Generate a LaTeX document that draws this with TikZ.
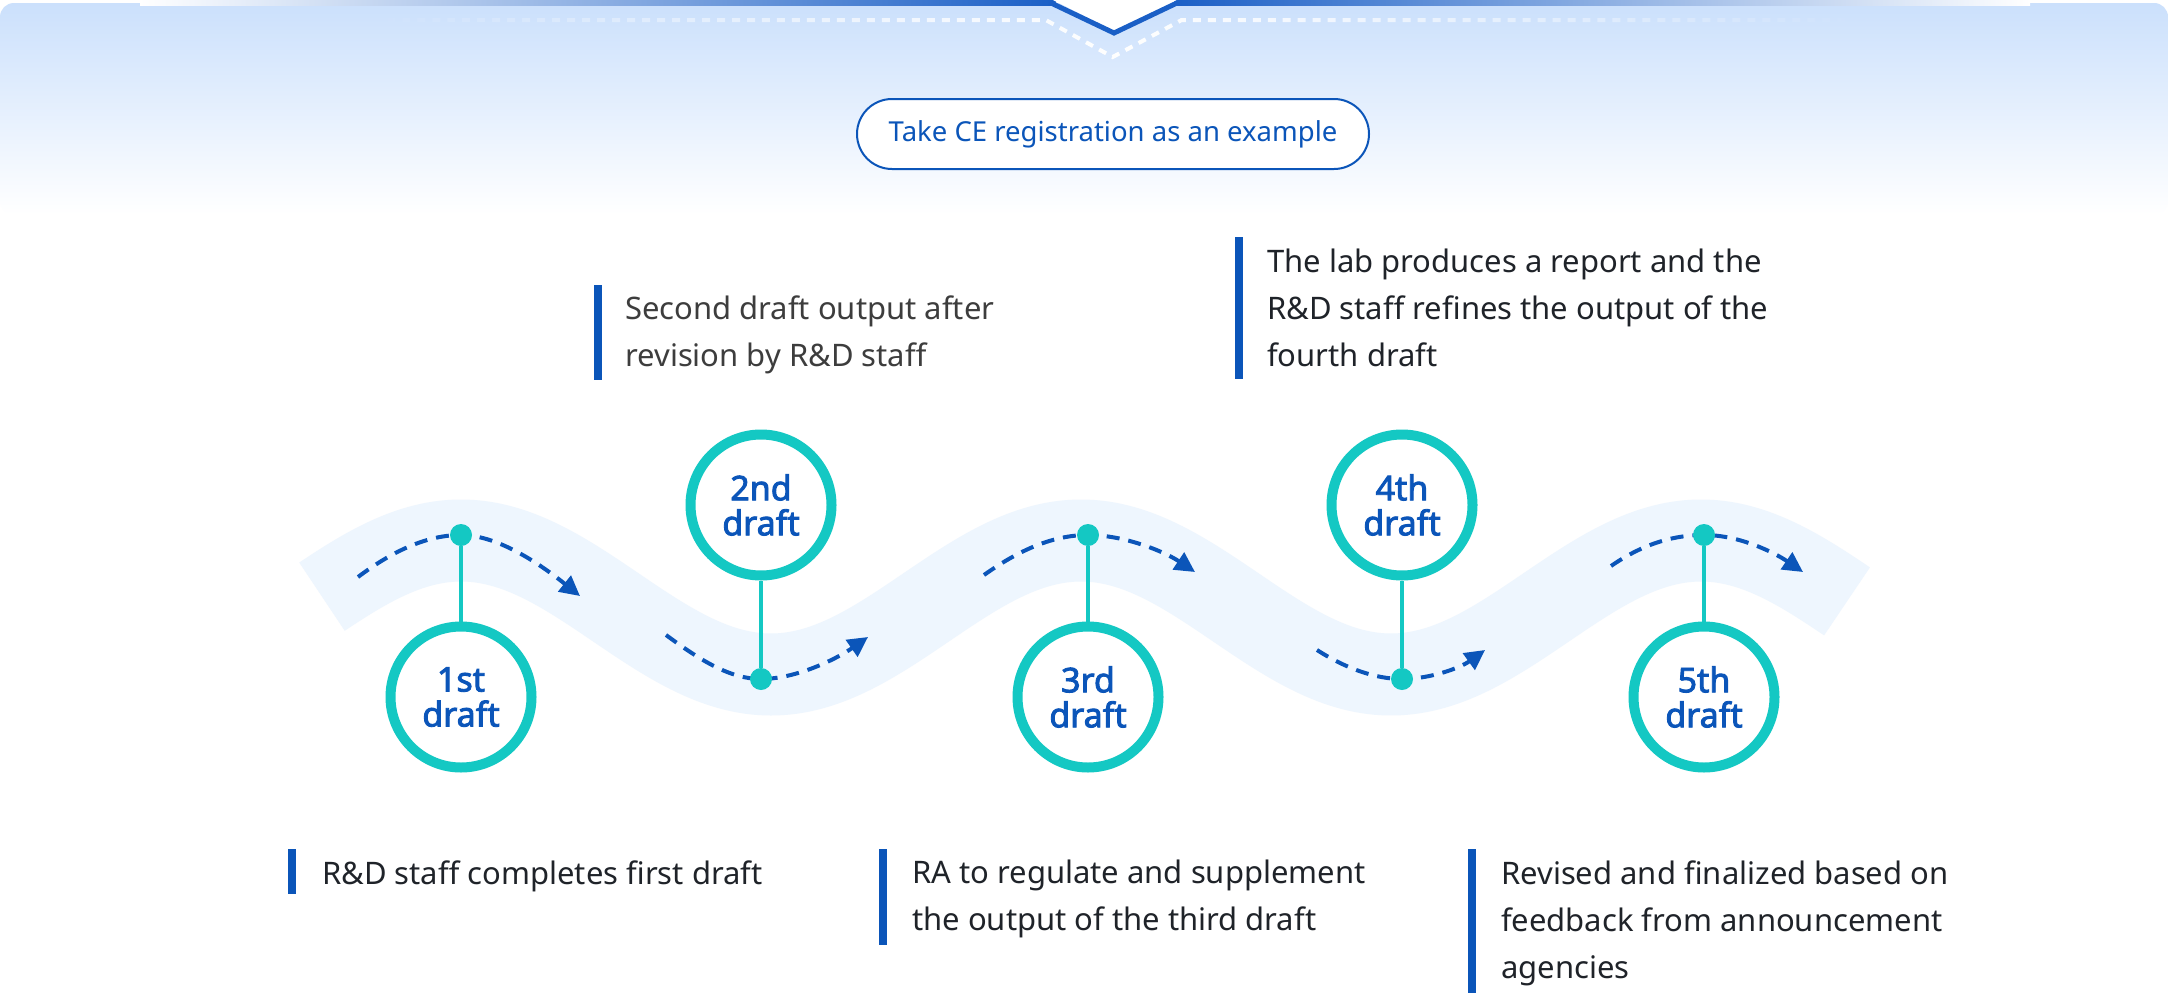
\documentclass[tikz,border=0pt]{standalone}
\usepackage{fontspec}
\setmainfont{Noto Sans}
\newfontfamily\circfont{Noto Sans}[FakeBold=2.6]
\usetikzlibrary{arrows.meta,fadings}
\definecolor{tealc}{HTML}{14C8C3}
\definecolor{dblue}{HTML}{0B55B9}
\definecolor{bandc}{HTML}{EEF6FE}
\definecolor{txtc}{HTML}{1F2329}
\definecolor{txtg}{HTML}{3D3D3D}
\definecolor{bgtop}{HTML}{CBE0FC}
\definecolor{barblue}{HTML}{1A5FC6}
\definecolor{barmid}{HTML}{8CC0F5}
\tikzfading[name=fadeends, left color=transparent!100, right color=transparent!100, middle color=transparent!0]
\tikzset{
  stagecirc/.style={circle, draw=tealc, line width=10pt, fill=white, minimum size=141pt, inner sep=0pt, align=center, text=dblue, font=\circfont\fontsize{34}{35}\selectfont},
  dotc/.style={circle, fill=tealc, minimum size=22pt, inner sep=0pt},
  stem/.style={draw=tealc, line width=4pt},
  flow/.style={draw=dblue, line width=4pt, dash pattern=on 13pt off 9pt, -{Triangle[length=20pt,width=20pt]}},
  desc/.style={anchor=base west, inner sep=0pt, text=txtc, font=\fontsize{31}{47}\selectfont},
  barc/.style={fill=dblue},
}
\begin{document}
\begin{tikzpicture}[x=1pt,y=-1pt]
\useasboundingbox (0,0) rectangle (2168,993);
\fill[white] (0,0) rectangle (2168,993);
% top background gradient
\shade[top color=bgtop, bottom color=white, rounded corners=14pt] (0,3) rectangle (2168,215);
% top bar
\shade[left color=white, middle color=barmid, right color=barblue] (140,0) rectangle (1056,5);
\shade[left color=barblue, middle color=barmid, right color=white] (1174,0) rectangle (2030,5);
\fill[white] (1053,0) -- (1114,31) -- (1177,0) -- cycle;
\draw[barblue, line width=5pt, line join=miter] (1050,2.5) -- (1114,33) -- (1178,2.5);
\draw[white, line width=4pt, dash pattern=on 8pt off 7pt, path fading=fadeends, fit fading=true]
  (373,20) -- (1047,20) -- (1114,57) -- (1183,20) -- (1860,20);
% pill
\node[draw=dblue, line width=2pt, fill=white, rounded corners=35pt, minimum width=512pt, minimum height=70pt, text=dblue, font=\fontsize{27.5}{30}\selectfont] (pill) at (1113,134) {Take CE registration as an example};
% band
\draw[bandc, line width=82pt] plot[domain=322:1847, samples=300, variable=\t] (\t, {607.5-67*cos(((\t-461)/620)*360)});
% dot positions
\coordinate (p1) at (461,535);
\coordinate (p2) at (761,679);
\coordinate (p3) at (1088,535);
\coordinate (p4) at (1402,679);
\coordinate (p5) at (1704,535);
% flow arrows
\coordinate (s1) at (358,577);  \coordinate (e1) at (580,596);
\coordinate (s2) at (666,635);  \coordinate (e2) at (868,637);
\coordinate (s3) at (984,575);  \coordinate (e3) at (1195,572);
\coordinate (s4) at (1317,650); \coordinate (e4) at (1485,650);
\coordinate (s5) at (1611,566); \coordinate (e5) at (1803,572);
\draw[flow] (s1) .. controls (390,553) and (425,535) .. (p1) .. controls (500,535) and (545,568) .. (e1);
\draw[flow] (s2) .. controls (700,660) and (730,679) .. (p2) .. controls (795,679) and (835,660) .. (e2);
\draw[flow] (s3) .. controls (1015,553) and (1050,535) .. (p3) .. controls (1125,535) and (1165,552) .. (e3);
\draw[flow] (s4) .. controls (1345,668) and (1375,679) .. (p4) .. controls (1430,679) and (1460,668) .. (e4);
\draw[flow] (s5) .. controls (1640,546) and (1670,535) .. (p5) .. controls (1740,535) and (1775,553) .. (e5);
% stage circles
\node[stagecirc] (c1) at (461,697) {1st\\draft};
\node[stagecirc] (c2) at (761,505) {2nd\\draft};
\node[stagecirc] (c3) at (1088,697) {3rd\\draft};
\node[stagecirc] (c4) at (1402,505) {4th\\draft};
\node[stagecirc] (c5) at (1704,697) {5th\\draft};
% dots
\node[dotc] (d1) at (p1) {};
\node[dotc] (d2) at (p2) {};
\node[dotc] (d3) at (p3) {};
\node[dotc] (d4) at (p4) {};
\node[dotc] (d5) at (p5) {};
% stems
\draw[stem] (d1) -- (c1);
\draw[stem] (d2) -- (c2);
\draw[stem] (d3) -- (c3);
\draw[stem] (d4) -- (c4);
\draw[stem] (d5) -- (c5);
% description bars
\fill[barc] (288,849) rectangle (296,894);
\fill[barc] (594,285) rectangle (602,380);
\fill[barc] (879,849) rectangle (887,945);
\fill[barc] (1235,237) rectangle (1243,379);
\fill[barc] (1468,849) rectangle (1476,993);
% descriptions
\node[desc] (t1) at (322,884) {R\&D staff completes first draft};
\node[desc, text=txtg] (t2) at (625,319) {\begin{tabular}[t]{@{}l@{}}Second draft output after\\revision by R\&D staff\end{tabular}};
\node[desc] (t3) at (912,883) {\begin{tabular}[t]{@{}l@{}}RA to regulate and supplement\\the output of the third draft\end{tabular}};
\node[desc] (t4) at (1267,272) {\begin{tabular}[t]{@{}l@{}}The lab produces a report and the\\R\&D staff refines the output of the\\fourth draft\end{tabular}};
\node[desc] (t5) at (1501,884) {\begin{tabular}[t]{@{}l@{}}Revised and finalized based on\\feedback from announcement\\agencies\end{tabular}};
\end{tikzpicture}
\end{document}
